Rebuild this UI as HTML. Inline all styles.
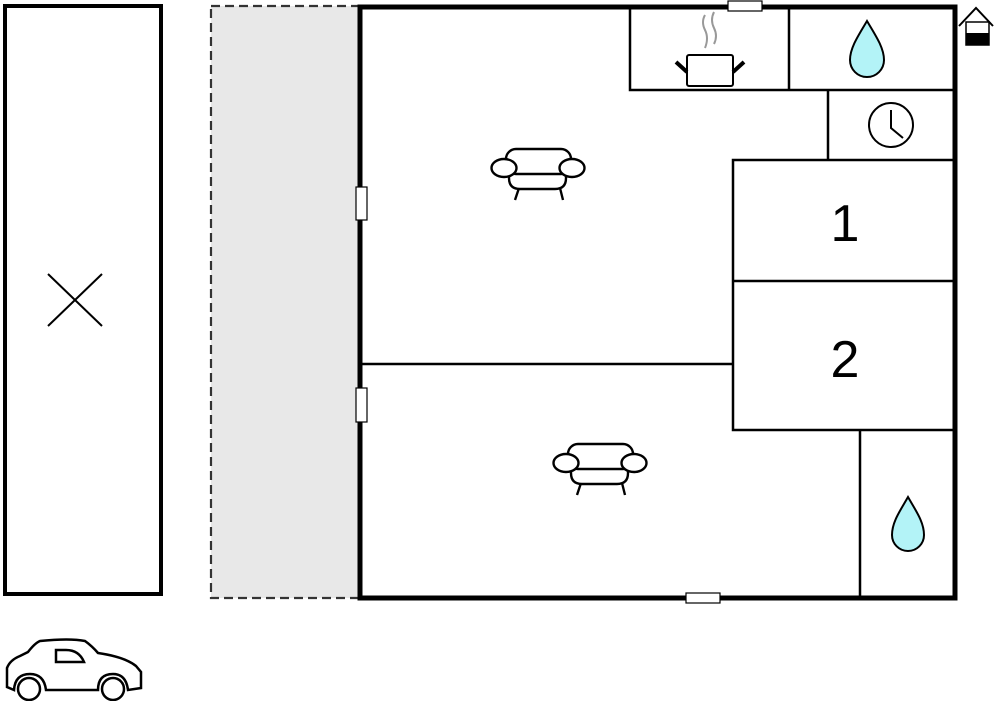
<!DOCTYPE html>
<html><head><style>html,body{margin:0;padding:0;background:#fff;width:1000px;height:701px;overflow:hidden}svg{display:block}</style></head>
<body>
<svg width="1000" height="701" viewBox="0 0 1000 701" xmlns="http://www.w3.org/2000/svg" font-family="Liberation Sans, sans-serif">
<defs>
<g id="sofa" fill="#fff" stroke="#000" stroke-width="2.4">
<line x1="-18" y1="18" x2="-22" y2="30"/>
<line x1="23" y1="18" x2="26" y2="30"/>
<path d="M-28,2 L-28,8 Q-28,19 -17,19 L18,19 Q29,19 29,8 L29,2 Z"/>
<rect x="-31" y="-21" width="65" height="25" rx="10"/>
<ellipse cx="-33" cy="-2" rx="12.5" ry="9"/>
<ellipse cx="35" cy="-2" rx="12.5" ry="9"/>
</g>
</defs>
<rect x="5" y="6" width="156" height="588" fill="#fff" stroke="#000" stroke-width="4"/>
<line x1="48" y1="274" x2="102" y2="326" stroke="#000" stroke-width="2"/>
<line x1="102" y1="274" x2="48" y2="326" stroke="#000" stroke-width="2"/>
<rect x="211" y="6" width="149" height="592" fill="#e8e8e8" stroke="#333" stroke-width="2.2" stroke-dasharray="9,5"/>
<rect x="360" y="7" width="595" height="591" fill="#fff" stroke="#000" stroke-width="5"/>
<g stroke="#000" stroke-width="2.5" fill="none">
<polyline points="630,7 630,90 955,90"/>
<line x1="789" y1="7" x2="789" y2="90"/>
<line x1="828" y1="90" x2="828" y2="160"/>
<polyline points="955,160 733,160 733,430 955,430"/>
<line x1="733" y1="281" x2="955" y2="281"/>
<line x1="860" y1="430" x2="860" y2="598"/>
<line x1="360" y1="364" x2="733" y2="364"/>
</g>
<g fill="#fff" stroke="#000" stroke-width="1.2">
<rect x="728" y="1" width="34" height="10"/>
<rect x="356" y="187" width="11" height="33"/>
<rect x="356" y="388" width="11" height="34"/>
<rect x="686" y="593" width="34" height="10"/>
</g>
<g stroke="#999" stroke-width="2" fill="none">
<path d="M705,15 Q701,22 705,30 Q709,38 705,48"/>
<path d="M714,12 Q710,20 714,28 Q718,36 714,44"/>
</g>
<rect x="687" y="55" width="46" height="31" rx="2" fill="#fff" stroke="#000" stroke-width="2"/>
<line x1="676" y1="62" x2="687" y2="72" stroke="#000" stroke-width="4"/>
<line x1="744" y1="62" x2="733" y2="72" stroke="#000" stroke-width="4"/>
<path d="M867,21 C876,36 884,48 884,60 A17,17 0 0 1 850,60 C850,48 858,36 867,21 Z" fill="#b3f3f7" stroke="#000" stroke-width="2"/>
<path d="M908,497 C916,511 924,522 924,535 A16,16 0 0 1 892,535 C892,522 900,511 908,497 Z" fill="#b3f3f7" stroke="#000" stroke-width="2"/>
<circle cx="891" cy="125" r="22" fill="#fff" stroke="#000" stroke-width="2"/>
<polyline points="891,110 891,128 903,138" fill="none" stroke="#000" stroke-width="2"/>
<polyline points="959,26 976,8 993,26" fill="none" stroke="#000" stroke-width="2"/>
<rect x="966" y="22" width="23" height="23" fill="#fff" stroke="#000" stroke-width="1.5"/>
<rect x="966" y="33" width="23" height="12" fill="#000"/>
<use href="#sofa" x="537" y="170"/>
<use href="#sofa" x="599" y="465"/>
<text x="845" y="241" font-size="52" text-anchor="middle">1</text>
<text x="845" y="377" font-size="52" text-anchor="middle">2</text>
<g fill="#fff" stroke="#000" stroke-width="2.5">
<path d="M14,690 L7,687 L7,668 Q10,660 20,656 L28,652 Q35,643 40,641 Q70,638 85,641 Q92,646 98,653 Q125,657 136,666 L141,672 L141,688 L128,690 Q126,674 113,674 Q98,674 98,690 L46,690 Q44,674 30,674 Q15,674 14,690 Z"/>
<path d="M56,650 L56,662 L84,662 Q79,650 66,650 Z"/>
<circle cx="29" cy="689" r="11"/>
<circle cx="113" cy="689" r="11"/>
</g>
</svg>
</body></html>
